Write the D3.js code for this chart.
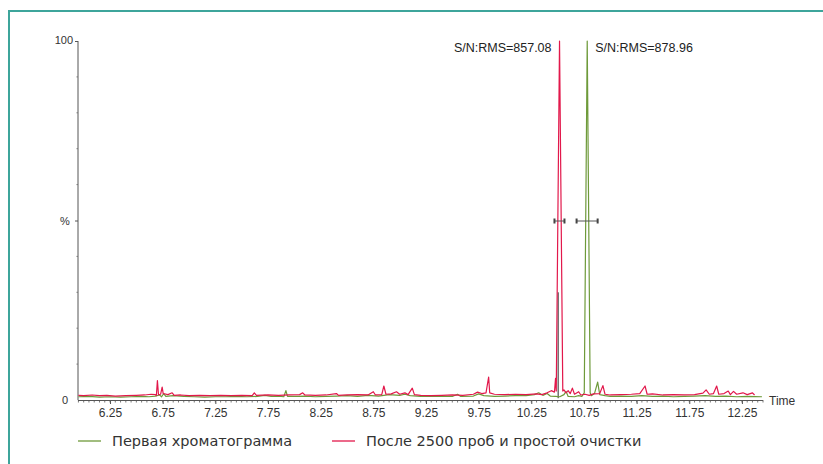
<!DOCTYPE html>
<html>
<head>
<meta charset="utf-8">
<script src="https://cdn.jsdelivr.net/npm/d3@7"></script>
<style>
  body { margin: 0; background: #fff; }
  svg { display: block; }
  .tick text { font-family: "Liberation Sans", Arial, sans-serif; }
</style>
</head>
<body>
<svg id="chart" width="823" height="464"></svg>
<script>
// series: [time, %]
var greenPts = [
  [5.95,0.9],[6.05,1.0],[6.15,0.8],[6.25,0.9],[6.35,0.8],[6.45,0.9],[6.55,1.0],[6.62,0.9],[6.68,1.1],[6.72,1.4],
  [6.74,0.9],[6.76,1.8],[6.78,1.0],[6.85,1.2],[6.95,1.0],[7.05,0.9],[7.15,0.8],[7.25,0.9],[7.35,0.9],[7.45,1.0],
  [7.55,0.9],[7.65,1.0],[7.72,1.3],[7.78,1.0],[7.85,1.1],[7.9,0.9],[7.92,2.6],[7.935,1.0],[8.0,1.0],[8.1,1.1],
  [8.2,0.9],[8.3,1.0],[8.4,1.1],[8.5,1.2],[8.6,1.0],[8.7,1.3],[8.8,1.1],[8.9,1.5],[9.0,1.3],[9.05,1.6],
  [9.1,1.2],[9.2,1.0],[9.3,1.0],[9.4,1.1],[9.5,1.0],[9.55,1.6],[9.58,1.0],[9.7,1.1],[9.75,1.7],[9.8,1.2],
  [9.9,1.0],[10.0,1.1],[10.1,1.2],[10.2,1.2],[10.28,1.5],[10.32,2.0],[10.36,1.3],[10.4,1.8],[10.43,1.1],[10.48,1.0],
  [10.52,0.9],[10.56,1.5],[10.58,2.4],[10.6,1.0],[10.66,0.9],[10.7,1.2],[10.73,1.0],[10.753,2.0],[10.781,100],[10.809,2.0],
  [10.82,1.2],[10.85,1.8],[10.88,5.0],[10.9,1.5],[10.95,1.2],[11.0,1.0],[11.1,1.1],[11.2,1.0],[11.3,1.2],[11.4,1.0],
  [11.5,1.1],[11.6,0.9],[11.7,1.0],[11.8,1.1],[11.9,1.2],[12.0,1.0],[12.1,1.1],[12.2,0.9],[12.3,1.0],[12.44,0.9]
];
var redPts = [
  [5.95,1.3],[6.0,1.2],[6.08,1.4],[6.15,1.2],[6.22,1.3],[6.3,1.1],[6.4,1.2],[6.5,1.3],[6.58,1.4],[6.64,1.6],
  [6.68,1.5],[6.69,1.2],[6.70,5.4],[6.71,1.5],[6.73,1.6],[6.745,3.6],[6.755,1.8],[6.8,1.5],[6.84,2.0],[6.86,1.3],
  [6.92,1.4],[7.0,1.2],[7.1,1.3],[7.2,1.2],[7.3,1.3],[7.4,1.2],[7.5,1.3],[7.6,1.2],[7.62,2.0],[7.64,1.3],
  [7.75,1.4],[7.85,1.3],[7.95,1.4],[8.05,1.5],[8.08,2.0],[8.1,1.4],[8.2,1.3],[8.3,1.4],[8.4,1.8],[8.42,1.3],
  [8.5,1.4],[8.6,1.5],[8.7,1.4],[8.75,2.3],[8.77,1.4],[8.83,1.5],[8.85,3.9],[8.87,1.6],[8.92,1.7],[8.97,2.3],
  [9.0,1.6],[9.05,2.0],[9.08,1.5],[9.12,3.3],[9.14,1.5],[9.2,1.3],[9.3,1.2],[9.4,1.3],[9.5,1.4],[9.6,1.3],
  [9.7,1.6],[9.74,2.2],[9.78,1.8],[9.82,2.0],[9.845,6.4],[9.855,2.0],[9.9,1.6],[10.0,1.5],[10.1,1.6],[10.2,1.5],
  [10.3,1.7],[10.35,1.5],[10.4,2.0],[10.44,2.6],[10.47,2.2],[10.48,6.0],[10.487,2.5],[10.518,100],[10.549,2.5],[10.56,2.8],
  [10.58,2.0],[10.6,2.6],[10.62,1.8],[10.64,3.3],[10.66,1.6],[10.7,2.3],[10.72,1.4],[10.76,1.6],[10.8,1.3],[10.84,1.7],
  [10.9,1.8],[10.93,4.0],[10.95,1.6],[11.0,1.4],[11.1,1.5],[11.2,1.6],[11.28,1.8],[11.33,3.9],[11.35,1.6],[11.4,1.7],
  [11.5,1.4],[11.6,1.5],[11.7,1.4],[11.8,1.5],[11.88,1.9],[11.91,2.8],[11.94,1.6],[11.98,1.8],[12.01,3.9],[12.03,1.6],
  [12.08,1.8],[12.12,2.5],[12.14,1.5],[12.17,2.4],[12.2,1.6],[12.26,2.0],[12.3,1.5],[12.35,2.0],[12.37,1.4]
];
// dark drop line on the left leg of the red peak: [time, from %, to %]
var dropLine = [10.505, 0.5, 30];
var xTicks = [6.25,6.75,7.25,7.75,8.25,8.75,9.25,9.75,10.25,10.75,11.25,11.75,12.25];
var peaks = [ // apex time, label, noise window [from,to]
  {t:10.518, label:"S/N:RMS=857.08", side:"left", win:[10.47,10.565]},
  {t:10.781, label:"S/N:RMS=878.96", side:"right", win:[10.68,10.88]}
];
var legendItems = ["Первая хроматограмма", "После 2500 проб и простой очистки"];
var colors = ["#6e9a3a", "#e2184b"];

var margin = {top: 41, left: 78},
    width = 685, height = 359;

var svg = d3.select("#chart");

// teal frame
svg.append("rect")
    .attr("x", 9).attr("y", 11)
    .attr("width", 840).attr("height", 480)
    .attr("fill", "none")
    .attr("stroke", "#3da59b")
    .attr("stroke-width", 2);

var g = svg.append("g")
    .attr("transform", "translate(" + margin.left + "," + margin.top + ")");

var x = d3.scaleLinear().domain([5.946, 12.45]).range([0, width]);
var y = d3.scaleLinear().domain([0, 100]).range([height, 0]);

// minor x ticks every 0.05
var minor = d3.range(5.95, 12.451, 0.05);
g.append("g")
    .attr("transform", "translate(0," + height + ")")
    .selectAll("line").data(minor).join("line")
    .attr("x1", function(d){ return x(d); }).attr("x2", function(d){ return x(d); })
    .attr("y1", 0).attr("y2", 2.5)
    .attr("stroke", "#555").attr("stroke-width", 0.8);

var xAxis = d3.axisBottom(x).tickValues(xTicks).tickSize(4).tickPadding(4)
    .tickFormat(function(d){ return d.toFixed(2); });
var gx = g.append("g")
    .attr("transform", "translate(0," + height + ")")
    .call(xAxis);
gx.select(".domain").attr("stroke", "#555").attr("d", "M0,0.5H" + width);
gx.selectAll(".tick line").attr("stroke", "#555");
gx.selectAll(".tick text").attr("font-size", 12).attr("fill", "#333");

// y axis
g.append("line")
    .attr("x1", 0).attr("x2", 0).attr("y1", y(100)).attr("y2", y(0))
    .attr("stroke", "#555");
g.selectAll(".ytick").data([10,20,30,40,60,70,80,90]).join("line")
    .attr("class", "ytick")
    .attr("x1", -1.5).attr("x2", 0)
    .attr("y1", function(d){ return y(d); }).attr("y2", function(d){ return y(d); })
    .attr("stroke", "#777");
g.selectAll(".ymaj").data([50,100]).join("line")
    .attr("class", "ymaj")
    .attr("x1", -3).attr("x2", 0)
    .attr("y1", function(d){ return y(d) + 0.5; }).attr("y2", function(d){ return y(d) + 0.5; })
    .attr("stroke", "#555");

var labFont = '"Liberation Sans", Arial, sans-serif';
g.append("text").attr("x", -5).attr("y", y(100) + 3).attr("text-anchor", "end")
    .attr("font-family", labFont).attr("font-size", 11).attr("fill", "#333").text("100");
g.append("text").attr("x", -13).attr("y", y(50) + 4).attr("text-anchor", "middle")
    .attr("font-family", labFont).attr("font-size", 11).attr("fill", "#333").text("%");
g.append("text").attr("x", -13).attr("y", y(0) + 4).attr("text-anchor", "middle")
    .attr("font-family", labFont).attr("font-size", 11).attr("fill", "#333").text("0");
g.append("text").attr("x", width + 6).attr("y", height + 5).attr("text-anchor", "start")
    .attr("font-family", labFont).attr("font-size", 12).attr("fill", "#333").text("Time");

// traces
var line = d3.line()
    .x(function(d){ return x(d[0]); })
    .y(function(d){ return y(d[1]); });

// drop line sits under the traces
g.append("line")
    .attr("x1", x(dropLine[0])).attr("x2", x(dropLine[0]))
    .attr("y1", y(dropLine[1])).attr("y2", y(dropLine[2]))
    .attr("stroke", "#2a2a2a").attr("stroke-width", 1);

[greenPts, redPts].forEach(function(pts, i){
  g.append("path")
    .datum(pts)
    .attr("d", line)
    .attr("fill", "none")
    .attr("stroke", colors[i])
    .attr("stroke-width", 1.2)
    .attr("stroke-linejoin", "round");
});

// S/N annotations
peaks.forEach(function(p){
  var px = x(p.t);
  g.append("text")
    .attr("x", p.side == "left" ? px - 8 : px + 8)
    .attr("y", 11)
    .attr("text-anchor", p.side == "left" ? "end" : "start")
    .attr("font-family", labFont).attr("font-size", 12.5).attr("fill", "#222")
    .text(p.label);
  var yy = y(50) + 0.5;
  g.append("line")
    .attr("x1", x(p.win[0])).attr("x2", x(p.win[1]))
    .attr("y1", yy).attr("y2", yy)
    .attr("stroke", "#555");
  p.win.forEach(function(w){
    g.append("rect")
      .attr("x", x(w) - 1).attr("y", yy - 2.5)
      .attr("width", 2).attr("height", 5)
      .attr("fill", "#444");
  });
});

// legend
var legX = [78, 332];
var leg = svg.append("g").attr("transform", "translate(0,441)");
legendItems.forEach(function(t, i){
  leg.append("line")
    .attr("x1", legX[i]).attr("x2", legX[i] + 23)
    .attr("y1", 0).attr("y2", 0)
    .attr("stroke", colors[i]).attr("stroke-width", 1.3);
  leg.append("text")
    .attr("x", legX[i] + 34).attr("y", 5)
    .attr("font-family", '"DejaVu Sans", Verdana, sans-serif')
    .attr("font-size", 14.5).attr("fill", "#333")
    .text(t);
});
</script>
</body>
</html>
